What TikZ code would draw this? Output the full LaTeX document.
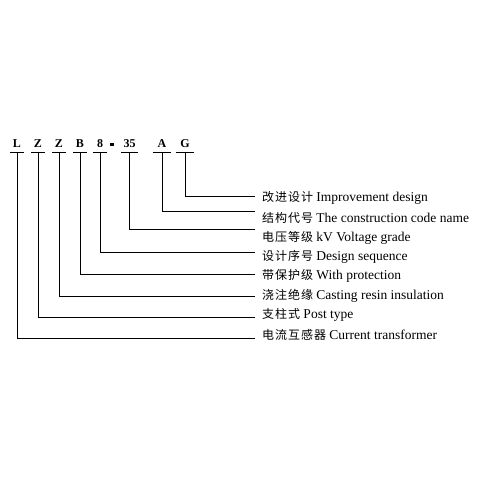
\documentclass[tikz,border=0pt]{standalone}
\usepackage{fontspec}
\setmainfont{Liberation Serif}
\newfontfamily\cjk{Noto Sans CJK SC}[LetterSpace=8]
\usetikzlibrary{positioning}

\begin{document}
\begin{tikzpicture}[
    x=1pt, y=-1pt,
    every node/.style={font=\fontsize{13.5}{15}\selectfont},
    code/.style={anchor=base, inner xsep=0pt, inner ysep=4.5pt, minimum width=13pt, font=\fontsize{12}{14}\selectfont\bfseries},
    lab/.style={anchor=west, inner sep=0pt},
    line/.style={line width=0.8pt}
]
\useasboundingbox (0,0) rectangle (485,485);

% 型号字母
\node[code] (cL) at (17,147.5) {L};
\node[code] (cZa) at (38,147.5) {Z};
\node[code] (cZb) at (59,147.5) {Z};
\node[code] (cB) at (80,147.5) {B};
\node[code] (cE) at (100,147.5) {8};
\node[code, minimum width=4pt] (cD) at (112,147.5) {\rule[2pt]{4.5pt}{2.5pt}};
\node[code, minimum width=16pt] (cV) at (129.5,147.5) {35};
\node[code, minimum width=18pt] (cA) at (162,147.5) {A};
\node[code, minimum width=18pt] (cG) at (185,147.5) {G};

% 下划线
\draw[line] (cL.south west) -- (cL.south east);
\draw[line] (cZa.south west) -- (cZa.south east);
\draw[line] (cZb.south west) -- (cZb.south east);
\draw[line] (cB.south west) -- (cB.south east);
\draw[line] (cE.south west) -- (cE.south east);
\draw[line] (cV.south west) -- (cV.south east);
\draw[line] (cA.south west) -- (cA.south east);
\draw[line] (cG.south west) -- (cG.south east);

% 连接线终点
\coordinate (eG) at (255,196);
\coordinate (eA) at (255,211);
\coordinate (eV) at (255,229);
\coordinate (eE) at (255,252);
\coordinate (eB) at (255,274);
\coordinate (eZb) at (255,296);
\coordinate (eZa) at (255,317);
\coordinate (eL) at (255,338);

% 连接线
\draw[line] (cG.south) |- (eG);
\draw[line] (cA.south) |- (eA);
\draw[line] (cV.south) |- (eV);
\draw[line] (cE.south) |- (eE);
\draw[line] (cB.south) |- (eB);
\draw[line] (cZb.south) |- (eZb);
\draw[line] (cZa.south) |- (eZa);
\draw[line] (cL.south) |- (eL);

% 右侧说明
\node[lab] (tG) at (262,198) {{\cjk\fontsize{12}{14}\selectfont 改进设计} Improvement design};
\node[lab] (tA) at (262,218) {{\cjk\fontsize{12}{14}\selectfont 结构代号} The construction code name};
\node[lab] (tV) at (262,238) {{\cjk\fontsize{12}{14}\selectfont 电压等级} kV Voltage grade};
\node[lab] (tE) at (262,257) {{\cjk\fontsize{12}{14}\selectfont 设计序号} Design sequence};
\node[lab] (tB) at (262,276) {{\cjk\fontsize{12}{14}\selectfont 带保护级} With protection};
\node[lab] (tZb) at (262,296) {{\cjk\fontsize{12}{14}\selectfont 浇注绝缘} Casting resin insulation};
\node[lab] (tZa) at (262,315) {{\cjk\fontsize{12}{14}\selectfont 支柱式} Post type};
\node[lab] (tL) at (262,335) {{\cjk\fontsize{12}{14}\selectfont 电流互感器} Current transformer};

\end{tikzpicture}
\end{document}
